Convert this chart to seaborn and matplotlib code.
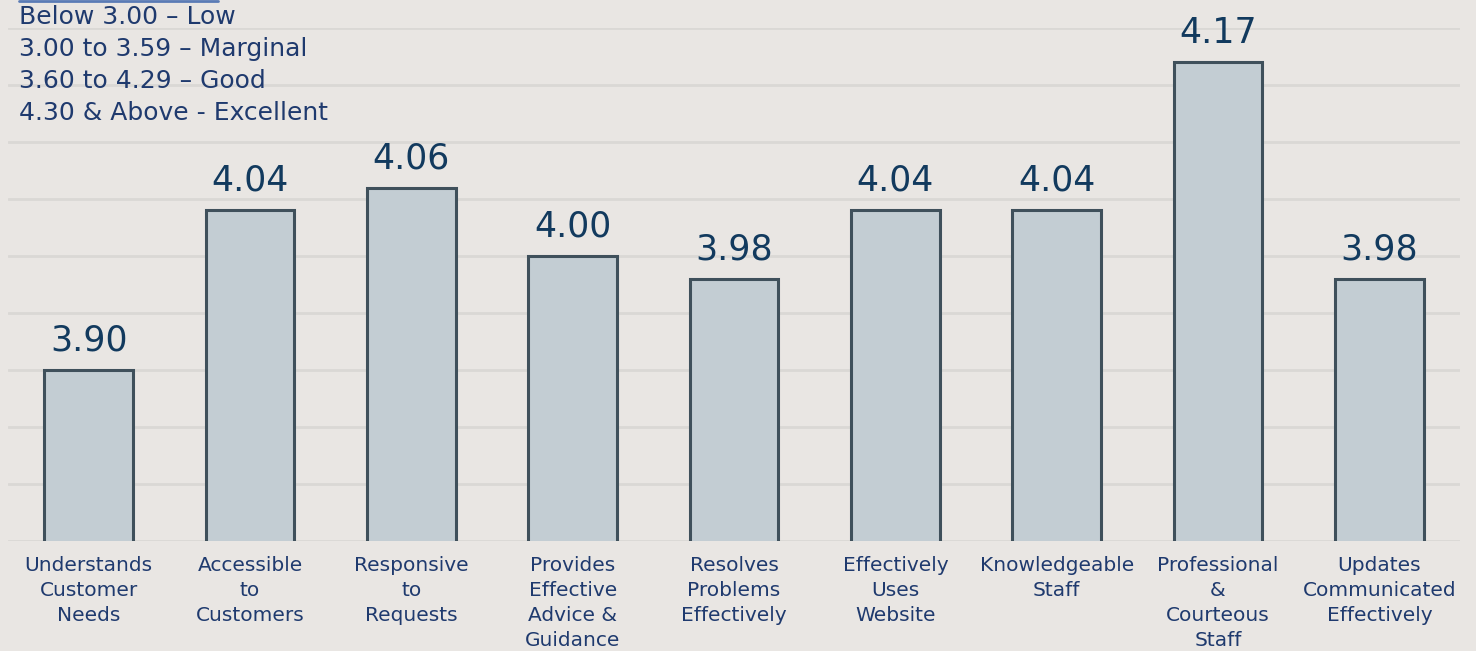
import matplotlib
matplotlib.use("Agg")
import matplotlib.pyplot as plt
import seaborn as sns
import pandas as pd
import numpy as np
from matplotlib.lines import Line2D

categories = [
    "Understands\nCustomer\nNeeds",
    "Accessible\nto\nCustomers",
    "Responsive\nto\nRequests",
    "Provides\nEffective\nAdvice &\nGuidance",
    "Resolves\nProblems\nEffectively",
    "Effectively\nUses\nWebsite",
    "Knowledgeable\nStaff",
    "Professional\n&\nCourteous\nStaff",
    "Updates\nCommunicated\nEffectively",
]
values = [3.90, 4.04, 4.06, 4.00, 3.98, 4.04, 4.04, 4.17, 3.98]
scale_lines = [
    "Below 3.00 \u2013 Low",
    "3.00 to 3.59 \u2013 Marginal",
    "3.60 to 4.29 \u2013 Good",
    "4.30 & Above - Excellent",
]

BG = "#E9E6E3"
BAR = "#C3CDD3"
EDGE = "#3F505B"
TXT = "#1F3A6E"
VAL = "#123A5E"
GRID = "#DAD8D5"

sns.set_theme(style="white")
plt.rcParams["font.family"] = ["DejaVu Sans"]

df = pd.DataFrame({"cat": categories, "val": values})

fig = plt.figure(figsize=(14.76, 6.51), dpi=100, facecolor=BG)
ax = fig.add_axes([8/1476, 1-541/651, (1460-8)/1476, (541-28)/651])
ax.set_facecolor(BG)

sns.barplot(data=df, x="cat", y="val", color=BAR, edgecolor=EDGE, linewidth=2.2,
            width=0.55, saturation=1, ax=ax, zorder=3)

ax.set_ylim(3.75, 4.20)
ax.set_xlim(-0.5, len(categories) - 0.5)
ax.set_yticks(np.arange(3.75, 4.2001, 0.05))
ax.yaxis.grid(True, color=GRID, linewidth=2)
ax.set_axisbelow(True)
ax.set_yticklabels([])
ax.tick_params(axis="y", length=0)
ax.tick_params(axis="x", length=0, pad=11, labelsize=14.5, labelcolor=TXT)
for lbl in ax.get_xticklabels():
    lbl.set_linespacing(1.4)
ax.set_xlabel("")
ax.set_ylabel("")
for s in ax.spines.values():
    s.set_visible(False)

for i, v in enumerate(values):
    ax.annotate(f"{v:.2f}", xy=(i, v), xytext=(0, 14), textcoords="offset points",
                ha="center", va="baseline", fontsize=25, color=VAL)

for k, line in enumerate(scale_lines):
    fig.text(19/1476, 1 - (17 + 32*k)/651, line, ha="left", va="center",
             fontsize=18, color=TXT)

fig.add_artist(Line2D([19/1476, 218/1476], [1 - 1/651, 1 - 1/651],
                      color="#5A7BB5", linewidth=2, transform=fig.transFigure))

fig.savefig("out.png", dpi=100, facecolor=BG)
